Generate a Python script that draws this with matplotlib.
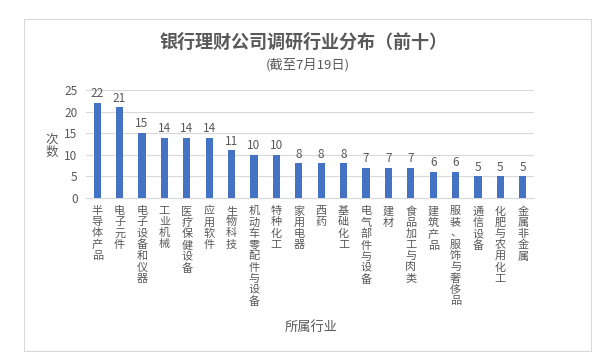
import matplotlib.pyplot as plt
from matplotlib.patches import Rectangle

plt.rcParams['font.family'] = ['Noto Sans CJK SC', 'DejaVu Sans']

# Data
industries = ['半导体产品', '电子元件', '电子设备和仪器', '工业机械', '医疗保健设备',
              '应用软件', '生物科技', '机动车零配件与设备', '特种化工', '家用电器',
              '西药', '基础化工', '电气部件与设备', '建材', '食品加工与肉类',
              '建筑产品', '服装、服饰与奢侈品', '通信设备', '化肥与农用化工', '金属非金属']
counts = [22, 21, 15, 14, 14, 14, 11, 10, 10, 8, 8, 8, 7, 7, 7, 6, 6, 5, 5, 5]
yticks = [0, 5, 10, 15, 20, 25]

W, H = 615, 364
text_color = '#595959'
grid_color = '#d9d9d9'
bar_color = '#4472C4'

fig = plt.figure(figsize=(W / 100, H / 100), dpi=100)

# chart frame
fig.add_artist(Rectangle((24 / W, 1 - 351 / H), (591 - 24) / W, (351 - 19) / H,
                         transform=fig.transFigure, fill=False,
                         edgecolor=grid_color, linewidth=0.8))

ax = fig.add_axes([86 / W, 1 - 198 / H, 448 / W, 108 / H])
x = list(range(len(industries)))
bars = ax.bar(x, counts, width=0.33, color=bar_color, zorder=3)
ax.bar_label(bars, padding=2, color=text_color, fontsize=8.5)

ax.set_xlim(-0.5, len(industries) - 0.5)
ax.set_ylim(0, 25)
ax.set_yticks(yticks)
ax.set_yticklabels([str(v) for v in yticks], color=text_color, fontsize=8.5)
ax.yaxis.grid(True, color=grid_color, linewidth=0.8, zorder=0)

ax.set_xticks(x)
ax.set_xticklabels(['\n'.join(name) for name in industries], color=text_color,
                   fontsize=8, linespacing=1.13, va='top')
ax.tick_params(axis='both', length=0)
ax.tick_params(axis='x', pad=6)
ax.tick_params(axis='y', pad=6)

for side in ['top', 'right', 'left']:
    ax.spines[side].set_visible(False)
ax.spines['bottom'].set_color(grid_color)
ax.spines['bottom'].set_linewidth(0.8)

# titles and axis labels
fig.text(303 / W, 1 - 42 / H, '银行理财公司调研行业分布（前十）', ha='center', va='center',
         fontsize=13, color=text_color, fontweight='bold')
fig.text(308 / W, 1 - 65 / H, '(截至7月19日)', ha='center', va='center',
         fontsize=9.5, color=text_color)
fig.text(311 / W, 1 - 327 / H, '所属行业', ha='center', va='center',
         fontsize=9.5, color=text_color)
fig.text(52 / W, 1 - 146 / H, '次\n数', ha='center', va='center',
         fontsize=9, color=text_color, linespacing=1.0)

fig.savefig('out.png', dpi=100)
